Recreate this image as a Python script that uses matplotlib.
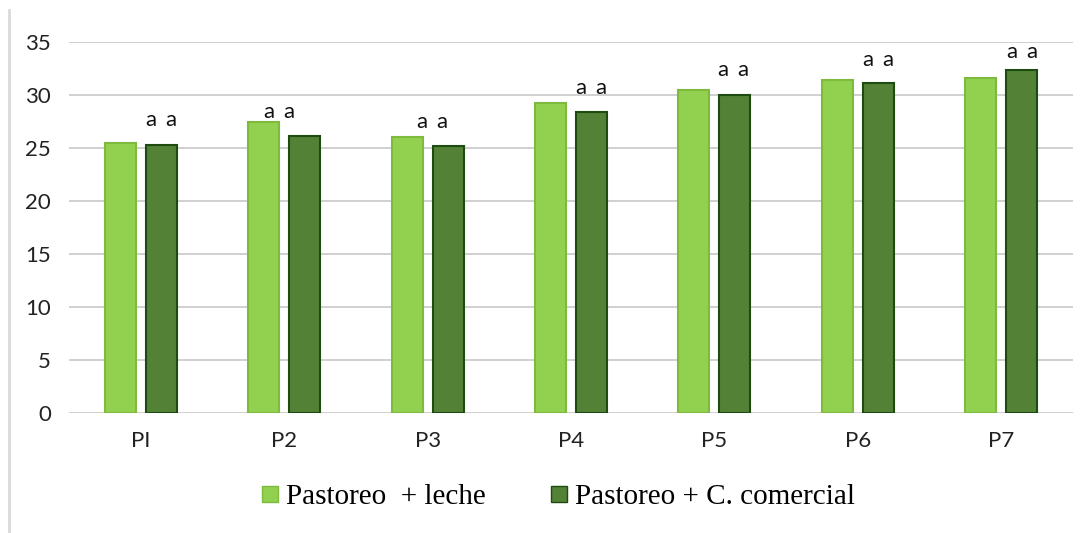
import matplotlib
matplotlib.use("Agg")
import matplotlib.pyplot as plt
from matplotlib.lines import Line2D
import numpy as np

categories = ["PI", "P2", "P3", "P4", "P5", "P6", "P7"]
leche = [25.45, 27.45, 26.0, 29.25, 30.4, 31.35, 31.55]
comercial = [25.3, 26.1, 25.2, 28.4, 29.95, 31.1, 32.3]
series_names = ["Pastoreo  + leche", "Pastoreo + C. comercial"]
letters = ["a", "a", "a", "a", "a", "a", "a"]
letter_y = [27.6, 28.4, 27.4, 30.6, 32.3, 33.3, 34.0]
letter_dx = [0.14, -0.04, 0.03, 0.14, 0.13, 0.14, 0.14]
yticks = [0, 5, 10, 15, 20, 25, 30, 35]

light_fill, light_edge = "#92D050", "#7DBA3E"
dark_fill, dark_edge = "#538135", "#1E4B10"

fig = plt.figure(figsize=(10.91, 5.33), dpi=100)
ax = fig.add_axes([69/1091, 120.3/533, (1073-69)/1091, 371/533])

x = np.arange(len(categories))
w = 0.216
off = 0.143
ax.bar(x - off, leche, width=w, color=light_fill, edgecolor=light_edge, linewidth=1.5, zorder=3)
ax.bar(x + off, comercial, width=w, color=dark_fill, edgecolor=dark_edge, linewidth=1.5, zorder=3)

for i in range(len(categories)):
    for s in (-0.07, 0.07):
        ax.text(x[i] + letter_dx[i] + s, letter_y[i], letters[i], ha="center", va="center",
                fontsize=16, family="Lato", color="#111111", zorder=4)

ax.set_xlim(-0.5, len(categories) - 0.5)
ax.set_ylim(0, 35)
ax.set_yticks(yticks)
ax.set_xticks(x)
ax.set_xticklabels(categories)
for spine in ax.spines.values():
    spine.set_visible(False)
ax.grid(axis="y", color="#D0D0D0", linewidth=1.4, zorder=0)
ax.tick_params(axis="both", length=0, labelsize=16, colors="#222222")
ax.tick_params(axis="y", pad=13)
ax.tick_params(axis="x", pad=13)
for lab in ax.get_xticklabels() + ax.get_yticklabels():
    lab.set_family("Lato")

handles = [
    Line2D([], [], marker="s", linestyle="none", markersize=11, markerfacecolor=light_fill, markeredgecolor=light_edge),
    Line2D([], [], marker="s", linestyle="none", markersize=11, markerfacecolor=dark_fill, markeredgecolor=dark_edge),
]
fig.legend(handles, series_names, loc="center", bbox_to_anchor=(558/1091, 1 - 497/533), ncol=2,
           frameon=False, prop={"family": "Liberation Serif", "size": 21},
           handlelength=0.6, handletextpad=0.25, columnspacing=2.2)

fig.add_artist(Line2D([9/1091, 9/1091], [0, 1 - 10/533], transform=fig.transFigure,
                      color="#D9D9D9", linewidth=2))

fig.savefig("out.png", dpi=100)
